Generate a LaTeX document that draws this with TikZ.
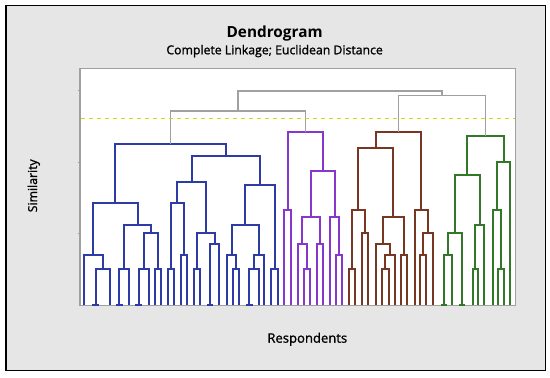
\documentclass[tikz,border=0pt]{standalone}
\usepackage{fontspec}
\setmainfont{Open Sans}
\newfontfamily\semibold[FakeBold=1.3]{Open Sans}
\usepackage{tikz}
\usetikzlibrary{positioning}

\definecolor{dgblue}{RGB}{45,60,165}
\definecolor{dgpurple}{RGB}{135,55,205}
\definecolor{dgbrown}{RGB}{120,55,35}
\definecolor{dggreen}{RGB}{50,120,40}
\definecolor{dggray}{RGB}{160,160,160}
\definecolor{dgcut}{RGB}{205,215,20}
\definecolor{dgback}{RGB}{230,230,230}

\begin{document}
\begin{tikzpicture}[x=0.75pt, y=-0.75pt,
  every node/.style={inner sep=0pt, text=black},
  link/.style={line width=1.5pt},
  blu/.style={link, draw=dgblue},
  pur/.style={link, draw=dgpurple},
  brn/.style={link, draw=dgbrown},
  grn/.style={link, draw=dggreen},
  top/.style={line width=1pt, draw=dggray}]
\useasboundingbox[fill=white] (0,0) rectangle (550,378);
\draw[line width=1.3pt, fill=dgback] (6,5.5) rectangle (545.5,370.5);
\draw[dggray, fill=white, line width=0.8pt] (80,68.3) rectangle (515.5,305.5);
\foreach \t in {90.7,162.5,233.8}
  \draw[dggray, line width=0.6pt] (77.5,\t) -- (80,\t);

% titles and axis names
\node[anchor=base, font=\bfseries\fontsize{11.5}{13}\selectfont] (title) at (274.6,37.3) {Dendrogram};
\node[anchor=base, font=\semibold\fontsize{9.2}{11}\selectfont] (subtitle) at (274.6,54.3) {Complete Linkage; Euclidean Distance};
\node[anchor=base, font=\semibold\fontsize{9.8}{12}\selectfont] (xlab) at (307.3,342.7) {Respondents};
\node[anchor=base, rotate=90, font=\semibold\fontsize{9.2}{11}\selectfont] (ylab) at (37,185.8) {Similarity};

% blue cluster
\foreach \xa/\ya/\xb/\yb/\h in {
  95.5/305/109.5/305/269.3, 84.3/305/102.5/269.3/255,
  119.3/305/129.1/305/269.3, 138.5/305/149/305/269.3, 154.6/305/161.3/305/269.3,
  143.75/269.3/157.95/269.3/233.3, 124.2/269.3/150.85/233.3/225,
  93.4/255/137.5/225/203.3,
  168.3/305/174.2/305/269.3, 180.5/305/186.8/305/255, 171.25/269.3/183.65/255/203.3,
  193.8/305/200.1/305/269.3, 210.2/305/219/305/244, 196.95/269.3/214.6/244/233.3,
  177.45/203.3/205.8/233.3/181.7,
  233/305/239.2/305/269.3, 227/305/236.1/269.3/255,
  249.4/305/258.5/305/269.3, 253.95/269.3/264.4/305/255,
  231.55/255/259.2/255/225, 271.4/305/277.7/305/269.3,
  245.4/225/274.55/269.3/185, 191.6/181.7/260/185/156,
  115.45/203.3/225.8/156/144}
  \draw[blu] (\xa,\ya) |- (\xb,\h) -- (\xb,\yb);
\foreach \xm in {95.5,119.3,138.5,210.2,249.4}
  \draw[blu] (\xm-3.2,305) -- (\xm+3.2,305);

% purple cluster
\foreach \xa/\ya/\xb/\yb/\h in {
  284.4/305/290.7/305/210, 303.9/305/310.2/305/269.3,
  297.6/305/307.05/269.3/244, 316.9/305/322.8/305/244,
  302.3/244/319.85/244/217.3, 336.1/305/342.4/305/255,
  330.2/305/339.25/255/217.3, 311.1/217.3/334.7/217.3/170.7,
  287.55/210/322.9/170.7/132.3}
  \draw[pur] (\xa,\ya) |- (\xb,\h) -- (\xb,\yb);

% brown cluster
\foreach \xa/\ya/\xb/\yb/\h in {
  349.1/305/355.4/305/269.3, 361.6/305/367.6/305/233.3,
  352.25/269.3/364.6/233.3/210, 382.3/305/388.6/305/269.3,
  385.45/269.3/394.5/305/255, 375.6/305/390/255/244,
  400.8/305/407.1/305/255, 382.8/244/403.95/255/217.3,
  358.4/210/393.4/217.3/148.3, 420/305/426.3/305/255,
  423.15/255/433/305/233.3, 414.8/305/428.1/233.3/210,
  375.9/148.3/421.45/210/132.3}
  \draw[brn] (\xa,\ya) |- (\xb,\h) -- (\xb,\yb);

% green cluster
\foreach \xa/\ya/\xb/\yb/\h in {
  443.8/305/451.5/305/255, 447.65/255/462/305/233.3,
  472.5/305/478.1/305/269.3, 475.3/269.3/484/305/225.3,
  454.8/233.3/479.65/225.3/175, 498/305/504/305/269.3,
  492.8/305/501/269.3/210, 496.9/210/510.3/305/161.7,
  467.2/175/503.6/161.7/136}
  \draw[grn] (\xa,\ya) |- (\xb,\h) -- (\xb,\yb);
\foreach \xm in {443.8,462}
  \draw[grn] (\xm-3.2,305) -- (\xm+3.2,305);

% upper links
\draw[top] (170.6,144) |- (305.2,111) -- (305.2,132.3);
\draw[top] (398.7,132.3) |- (485.4,95.7) -- (485.4,136);
\draw[top] (237.9,111) |- (442.05,91) -- (442.05,95.7);

% cut line
\draw[dgcut, line width=0.9pt, dash pattern=on 3.5pt off 2.5pt] (80.5,118.3) -- (515,118.3);
\end{tikzpicture}
\end{document}
